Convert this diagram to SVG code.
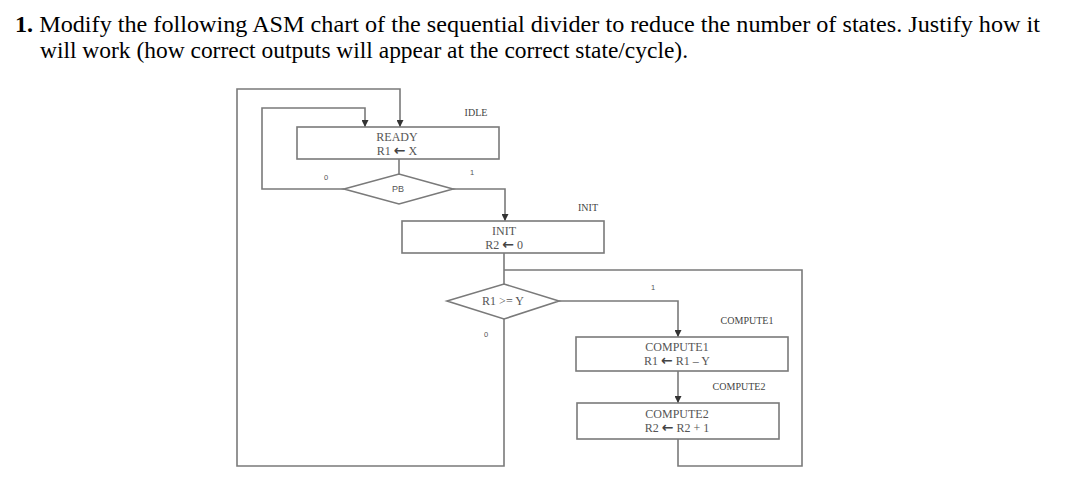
<svg xmlns="http://www.w3.org/2000/svg" width="1068" height="484" viewBox="0 0 1068 484">
<defs>
<marker id="arr" viewBox="0 0 8 8" refX="8" refY="4" markerWidth="7" markerHeight="7" markerUnits="userSpaceOnUse" orient="auto">
<path d="M0,0 L8,4 L0,8 Z" fill="#333"/>
</marker>
</defs>
<style>
.title{font-family:"Liberation Serif","Times New Roman",serif;font-size:23.5px;fill:#000}
.box{fill:#fff;stroke:#7a7a7a;stroke-width:1.6}
.wire{fill:none;stroke:#7a7a7a;stroke-width:1.6}
.btxt{font-family:"Liberation Serif","Times New Roman",serif;font-size:12px;fill:#555;text-anchor:middle}
.ar{font-family:"DejaVu Sans",sans-serif;font-weight:bold;font-size:14px;fill:#444}
.lbl{font-family:"Liberation Serif","Times New Roman",serif;font-size:10px;fill:#444;text-anchor:middle}
.cond{font-family:"Liberation Sans",Arial,sans-serif;font-size:7.5px;fill:#555;text-anchor:middle}
.dtxt{font-family:"Liberation Sans",Arial,sans-serif;font-size:9px;fill:#555;text-anchor:middle}
</style>
<rect width="1068" height="484" fill="#fff"/>
<text class="title" x="15" y="32" textLength="1025" lengthAdjust="spacingAndGlyphs"><tspan font-weight="bold">1.</tspan> Modify the following ASM chart of the sequential divider to reduce the number of states. Justify how it</text>
<text class="title" x="40" y="58" textLength="648" lengthAdjust="spacingAndGlyphs">will work (how correct outputs will appear at the correct state/cycle).</text>

<g id="connectors">
<path class="wire" d="M504,319 V466 H237 V89 H400 V127" marker-end="url(#arr)"/>
<path class="wire" d="M344,189 H262 V108 H365 V127" marker-end="url(#arr)"/>
<path class="wire" d="M399,159 V174"/>
<path class="wire" d="M453,189 H505 V221" marker-end="url(#arr)"/>
<path class="wire" d="M504,253 V284"/>
<path class="wire" d="M559,301 H678 V337" marker-end="url(#arr)"/>
<path class="wire" d="M678,371 V403" marker-end="url(#arr)"/>
<path class="wire" d="M678,439 V466 H802 V270 H504"/>
</g>

<g id="ready">
<rect class="box" x="297" y="127" width="202" height="32"/>
<text class="btxt" x="397" y="141">READY</text>
<text class="btxt" x="397" y="155">R1 <tspan class="ar">←</tspan> X</text>
<text class="lbl" x="476" y="116">IDLE</text>
</g>

<g id="pb">
<polygon class="box" points="344,189 399,174 453,189 399,204"/>
<text class="dtxt" x="398" y="192">PB</text>
<text class="cond" x="326" y="180">0</text>
<text class="cond" x="472" y="175">1</text>
</g>

<g id="init">
<rect class="box" x="402" y="221" width="202" height="32"/>
<text class="btxt" x="504" y="235">INIT</text>
<text class="btxt" x="504" y="249">R2 <tspan class="ar">←</tspan> 0</text>
<text class="lbl" x="588" y="211">INIT</text>
</g>

<g id="cmp">
<polygon class="box" points="447,301 504,284 559,301 504,319"/>
<text class="btxt" x="503" y="305">R1 &gt;= Y</text>
<text class="cond" x="486" y="337">0</text>
<text class="cond" x="653" y="290">1</text>
</g>

<g id="compute1">
<rect class="box" x="576" y="337" width="212" height="34"/>
<text class="btxt" x="677" y="351">COMPUTE1</text>
<text class="btxt" x="677" y="365">R1 <tspan class="ar">←</tspan> R1 – Y</text>
<text class="lbl" x="747" y="324">COMPUTE1</text>
</g>

<g id="compute2">
<rect class="box" x="577" y="403" width="202" height="36"/>
<text class="btxt" x="677" y="418">COMPUTE2</text>
<text class="btxt" x="677" y="432">R2 <tspan class="ar">←</tspan> R2 + 1</text>
<text class="lbl" x="739" y="390">COMPUTE2</text>
</g>
</svg>
